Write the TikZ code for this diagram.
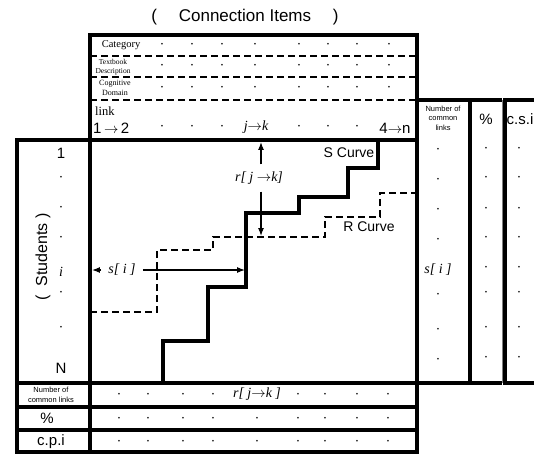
\documentclass[tikz,border=0pt]{standalone}
\usepackage{fontspec}
\setmainfont{Liberation Serif}
\setsansfont{Liberation Sans}
\usetikzlibrary{arrows.meta}

\begin{document}
\begin{tikzpicture}[
  x=1pt,y=-1pt,>=Latex,
  frame/.style={line width=3.5pt},
  divider/.style={line width=2.6pt,dash pattern=on 7pt off 4pt},
  scurve/.style={line width=3.5pt},
  rcurve/.style={line width=2.6pt,dash pattern=on 7pt off 4pt},
  gauge/.style={->,line width=1.1pt},
  pip/.style={inner sep=0pt,font=\fontsize{7}{7}\selectfont},
  heading/.style={inner sep=0pt,font=\sffamily\fontsize{17}{17}\selectfont},
  rowname/.style={inner sep=0pt,align=center},
  tiny label/.style={inner sep=0pt,align=center,
    font=\sffamily\fontsize{7.5}{9.5}\selectfont},
  big label/.style={inner sep=0pt,font=\sffamily\fontsize{15}{15}\selectfont},
  index/.style={inner sep=0pt,font=\itshape\fontsize{14}{14}\selectfont},
  curve name/.style={inner sep=0pt,font=\sffamily\fontsize{14}{14}\selectfont}
]
\useasboundingbox (0,0) rectangle (534,455);

\node[heading] (title) at (245,17) {(\quad\ Connection Items\quad\ )};

% header block
\draw[frame] (90,35) rectangle (417,140);
\draw[divider] (90,56) -- (417,56);
\draw[divider] (90,77) -- (417,77);
\draw[divider] (90,100) -- (417,100);
\node[rowname,font=\fontsize{10.5}{10.5}\selectfont] (category) at (121,45) {Category};
\node[rowname,font=\fontsize{7.5}{9.5}\selectfont] (textbook) at (113,67)
  {Textbook\\Description};
\node[rowname,font=\fontsize{8}{10.5}\selectfont] (cognitive) at (115,88)
  {Cognitive\\Domain};
\node[rowname,font=\fontsize{12.5}{12.5}\selectfont,anchor=west] (link) at (95,111) {link};
\node[big label,anchor=west] (first) at (93,128) {1\,$\rightarrow$\,2};
\node[index] (jk) at (256,127) {j$\rightarrow$k};
\node[big label] (last) at (395,128) {4$\rightarrow$n};
\foreach \x in {162,192,222,255,299,328,357,389}
  \foreach \y in {45,66,88}
    \node[pip] at (\x,\y) {•};
\foreach \x in {162,192,222,299,328,357}
  \node[pip] at (\x,127) {•};

% students column and main field
\draw[frame] (17,140) rectangle (90,383);
\draw[frame] (90,140) rectangle (417,383);
\node[heading,rotate=90,font=\sffamily\fontsize{16}{16}\selectfont] (students) at (43,257)
  {(\ \ Students\ )};
\node[big label] (one) at (61,153) {1};
\node[index] (row i) at (61,272) {i};
\node[big label] (row n) at (61,368) {N};
\foreach \y in {178,208,238,293,328}
  \node[pip] at (61,\y) {•};

% curves
\draw[scurve] (163,383) -- (163,341) -- (208,341) -- (208,287) -- (246,287)
  -- (246,213) -- (299,213) -- (299,197) -- (348,197) -- (348,168)
  -- (378,168) -- (378,140);
\draw[rcurve] (90,312) -- (157,312) -- (157,250) -- (213,250) -- (213,237)
  -- (325,237) -- (325,217) -- (380,217) -- (380,193) -- (417,193);
\node[curve name] (s name) at (349,153) {S Curve};
\node[curve name] (r name) at (369,227) {R Curve};

% distances
\node[index,inner xsep=7pt] (s dist) at (122,270) {s[ i ]};
\coordinate (s left) at (92,270);
\coordinate (s right) at (245,270);
\draw[gauge] (s dist) -- (s left);
\draw[gauge] (s dist) -- (s right);
\node[index,inner ysep=7pt] (r dist) at (259,178) {r[ j $\rightarrow$k]};
\coordinate (r top) at (261,142);
\coordinate (r bottom) at (261,236);
\draw[gauge] (r dist.north -| r top) -- (r top);
\draw[gauge] (r dist.south -| r bottom) -- (r bottom);

% right columns
\draw[frame] (417,100) rectangle (470,383);
\draw[frame] (502,100) -- (470,100) -- (470,383) -- (502,383);
\draw[gray,line width=0.8pt] (502,100) -- (502,383);
\draw[frame] (540,100) -- (505,100) -- (505,383) -- (540,383);
\node[tiny label] (common head) at (443,118) {Number of\\common\\links};
\node[big label] (percent head) at (486,119) {\%};
\node[big label] (csi head) at (520,119) {c.s.i};
\node[index] (s col) at (438,270) {s[ i ]};
\foreach \y in {150,180,210,240,295,330,360}
  \node[pip] at (438,\y) {•};
\foreach \y in {149,178,209,238,268,293,328,358}{
  \node[pip] at (486,\y) {•};
  \node[pip] at (519,\y) {•};
}

% bottom rows
\draw[frame] (17,383) rectangle (90,407);
\draw[frame] (90,383) rectangle (417,407);
\draw[frame] (17,407) rectangle (90,430);
\draw[frame] (90,407) rectangle (417,430);
\draw[frame] (17,430) rectangle (90,452);
\draw[frame] (90,430) rectangle (417,452);
\node[tiny label,font=\sffamily\fontsize{7.5}{10}\selectfont] (common foot) at (51,395)
  {Number of\\common links};
\node[big label] (percent foot) at (47,418) {\%};
\node[big label] (cpi foot) at (51,442) {c.p.i};
\node[index] (r row) at (257,394) {r[ j$\rightarrow$k ]};
\foreach \x in {119,148,183,213,298,325,357,388}
  \node[pip] at (\x,395) {•};
\foreach \x in {119,148,183,213,257,298,325,357,388}{
  \node[pip] at (\x,419) {•};
  \node[pip] at (\x,442) {•};
}
\end{tikzpicture}
\end{document}
